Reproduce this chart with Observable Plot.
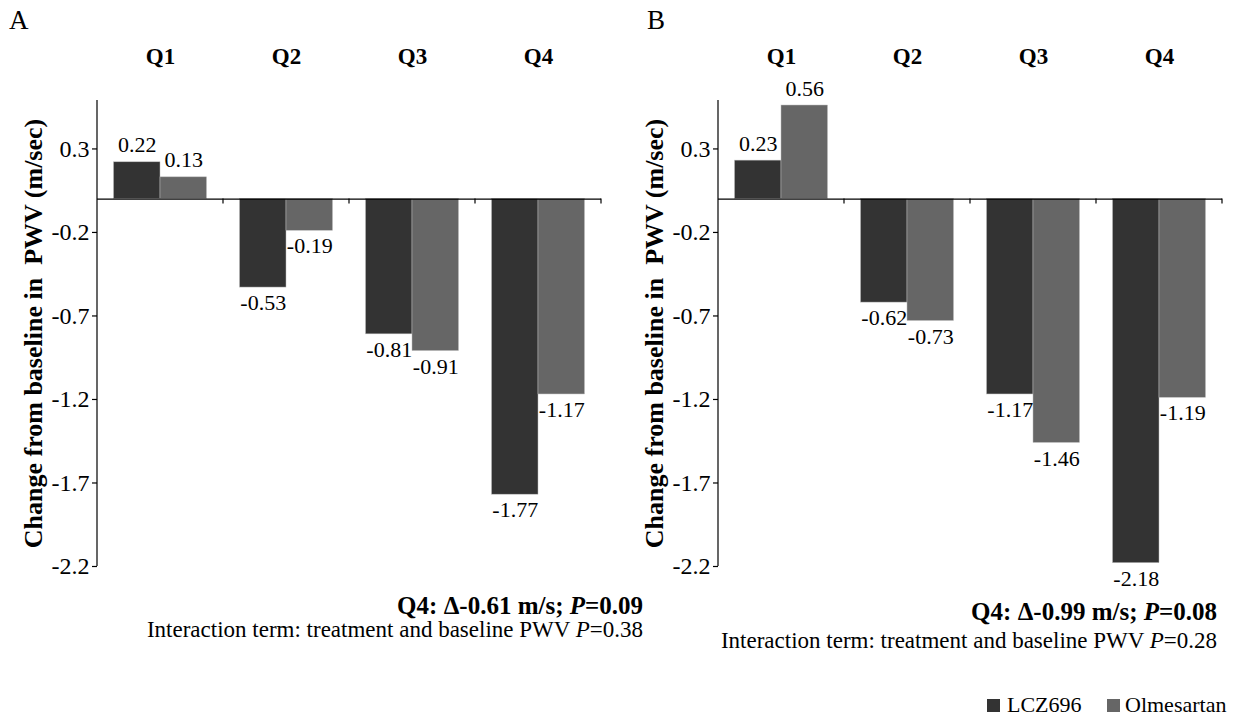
<!DOCTYPE html>
<html><head><meta charset="utf-8">
<script src="https://cdn.jsdelivr.net/npm/d3@7"></script>
<script src="https://cdn.jsdelivr.net/npm/@observablehq/plot@0.6"></script>
<style>
body{margin:0;background:#fff;font-family:"Liberation Serif","Times New Roman",serif;color:#000}
#wrap{position:relative;width:1249px;height:716px;overflow:hidden;background:#fff}
.panel{position:absolute;top:0}
.letter{position:absolute;font-size:27px;line-height:27px}
.note{position:absolute;text-align:right;white-space:nowrap;line-height:26px}
.bold{font-weight:bold;font-size:25px}
.reg{font-size:23px}
.sw{position:absolute;width:13px;height:13px;top:699px}
.lt{position:absolute;font-size:22px;line-height:24px;top:693px;white-space:nowrap}
</style></head><body>
<div id="wrap">
  <div class="letter" style="left:9px;top:7px">A</div>
  <div class="letter" style="left:647px;top:7px">B</div>
  <div id="panelA" class="panel" style="left:0px"></div>
  <div id="panelB" class="panel" style="left:621px"></div>
  <div class="note bold" style="right:606px;top:593px">Q4: Δ-0.61 m/s; <i>P</i>=0.09</div>
  <div class="note reg" style="right:606px;top:617px">Interaction term: treatment and baseline PWV <i>P</i>=0.38</div>
  <div class="note bold" style="right:32px;top:599px">Q4: Δ-0.99 m/s; <i>P</i>=0.08</div>
  <div class="note reg" style="right:32px;top:628px">Interaction term: treatment and baseline PWV <i>P</i>=0.28</div>
  <div id="legend"></div>
</div>
<script>
// ---- data ----
const quartiles = ["Q1", "Q2", "Q3", "Q4"];
const treatments = ["LCZ696", "Olmesartan"];
const lczA = [0.22, -0.53, -0.81, -1.77];
const olmA = [0.13, -0.19, -0.91, -1.17];
const lczB = [0.23, -0.62, -1.17, -2.18];
const olmB = [0.56, -0.73, -1.46, -1.19];
const yTicks = [0.3, -0.2, -0.7, -1.2, -1.7, -2.2];
const yDomain = [-2.2, 0.59];
const yTitle = "Change from baseline in \u00a0PWV (m/sec)";
const colors = ["#333333", "#666666"];

// ---- layout ----
const W = 621, H = 600, ML = 97, MR = 20, MT = 100, MB = 34;
const bw = (W - ML - MR) / quartiles.length;
const pad = bw * 0.131;
const barW = bw * 0.369;

function rowsFor(lcz, olm) {
  return quartiles.flatMap((q, i) => [
    {q, t: treatments[0], v: lcz[i]},
    {q, t: treatments[1], v: olm[i]}
  ]);
}

function groupLines(index, scales) {
  const {x, y} = scales;
  const ns = "http://www.w3.org/2000/svg";
  const g = document.createElementNS(ns, "g");
  g.setAttribute("stroke", "#000");
  g.setAttribute("stroke-width", "1.2");
  const y0 = y(0);
  const ax = document.createElementNS(ns, "line");
  const xl = x(quartiles[0]);
  ax.setAttribute("x1", xl); ax.setAttribute("x2", xl);
  ax.setAttribute("y1", y(yDomain[1])); ax.setAttribute("y2", y(yDomain[0]));
  g.appendChild(ax);
  for (const q of quartiles) {
    const xr = x(q) + x.bandwidth();
    const l = document.createElementNS(ns, "line");
    l.setAttribute("x1", xr); l.setAttribute("x2", xr);
    l.setAttribute("y1", y0); l.setAttribute("y2", y0 + 5);
    g.appendChild(l);
  }
  return g;
}

function panel(lcz, olm) {
  const rows = rowsFor(lcz, olm);
  const L = rows.filter(d => d.t === treatments[0]);
  const O = rows.filter(d => d.t === treatments[1]);
  const off = [pad + barW / 2 - bw / 2, bw - pad - barW / 2 - bw / 2];
  const labels = (data, dx) => [
    Plot.text(data.filter(d => d.v >= 0), {x: "q", y: "v", text: d => d.v.toFixed(2), dx, lineAnchor: "bottom", dy: -10, fontSize: 22}),
    Plot.text(data.filter(d => d.v < 0), {x: "q", y: "v", text: d => d.v.toFixed(2), dx, lineAnchor: "top", dy: 7, fontSize: 22})
  ];
  return Plot.plot({
    width: W, height: H,
    marginLeft: ML, marginRight: MR, marginTop: MT, marginBottom: MB,
    style: {fontFamily: "'Liberation Serif', 'Times New Roman', serif", fontSize: "24px", color: "#000", background: "transparent", overflow: "visible"},
    x: {domain: quartiles, padding: 0, axis: null},
    y: {domain: yDomain},
    marks: [
      Plot.barY(L, {x: "q", y1: 0, y2: "v", fill: colors[0], stroke: "#bbb", strokeWidth: 0.5, insetLeft: pad, insetRight: bw - pad - barW}),
      Plot.barY(O, {x: "q", y1: 0, y2: "v", fill: colors[1], stroke: "#bbb", strokeWidth: 0.5, insetLeft: pad + barW, insetRight: pad}),
      Plot.ruleY([0], {stroke: "#000", strokeWidth: 1.2}),
      groupLines,
      Plot.axisY(yTicks, {tickFormat: d => d.toFixed(1), tickSize: 5, tickPadding: 3, label: null, fontSize: 24, strokeWidth: 1.2}),
      Plot.text(quartiles, {x: d => d, frameAnchor: "top", dy: -53, fontWeight: "bold", fontSize: 23}),
      Plot.text([yTitle], {frameAnchor: "left", textAnchor: "middle", rotate: -90, dx: -64, fontWeight: "bold", fontSize: 26}),
      ...labels(L, off[0]),
      ...labels(O, off[1])
    ]
  });
}

document.getElementById("panelA").appendChild(panel(lczA, olmA));
document.getElementById("panelB").appendChild(panel(lczB, olmB));

const leg = document.getElementById("legend");
const swX = [987, 1107], txX = [1007, 1125];
treatments.forEach((t, i) => {
  const sw = document.createElement("div");
  sw.className = "sw"; sw.style.background = colors[i]; sw.style.left = swX[i] + "px";
  const tx = document.createElement("div");
  tx.className = "lt"; tx.textContent = t; tx.style.left = txX[i] + "px";
  leg.appendChild(sw); leg.appendChild(tx);
});
</script>
</body></html>
